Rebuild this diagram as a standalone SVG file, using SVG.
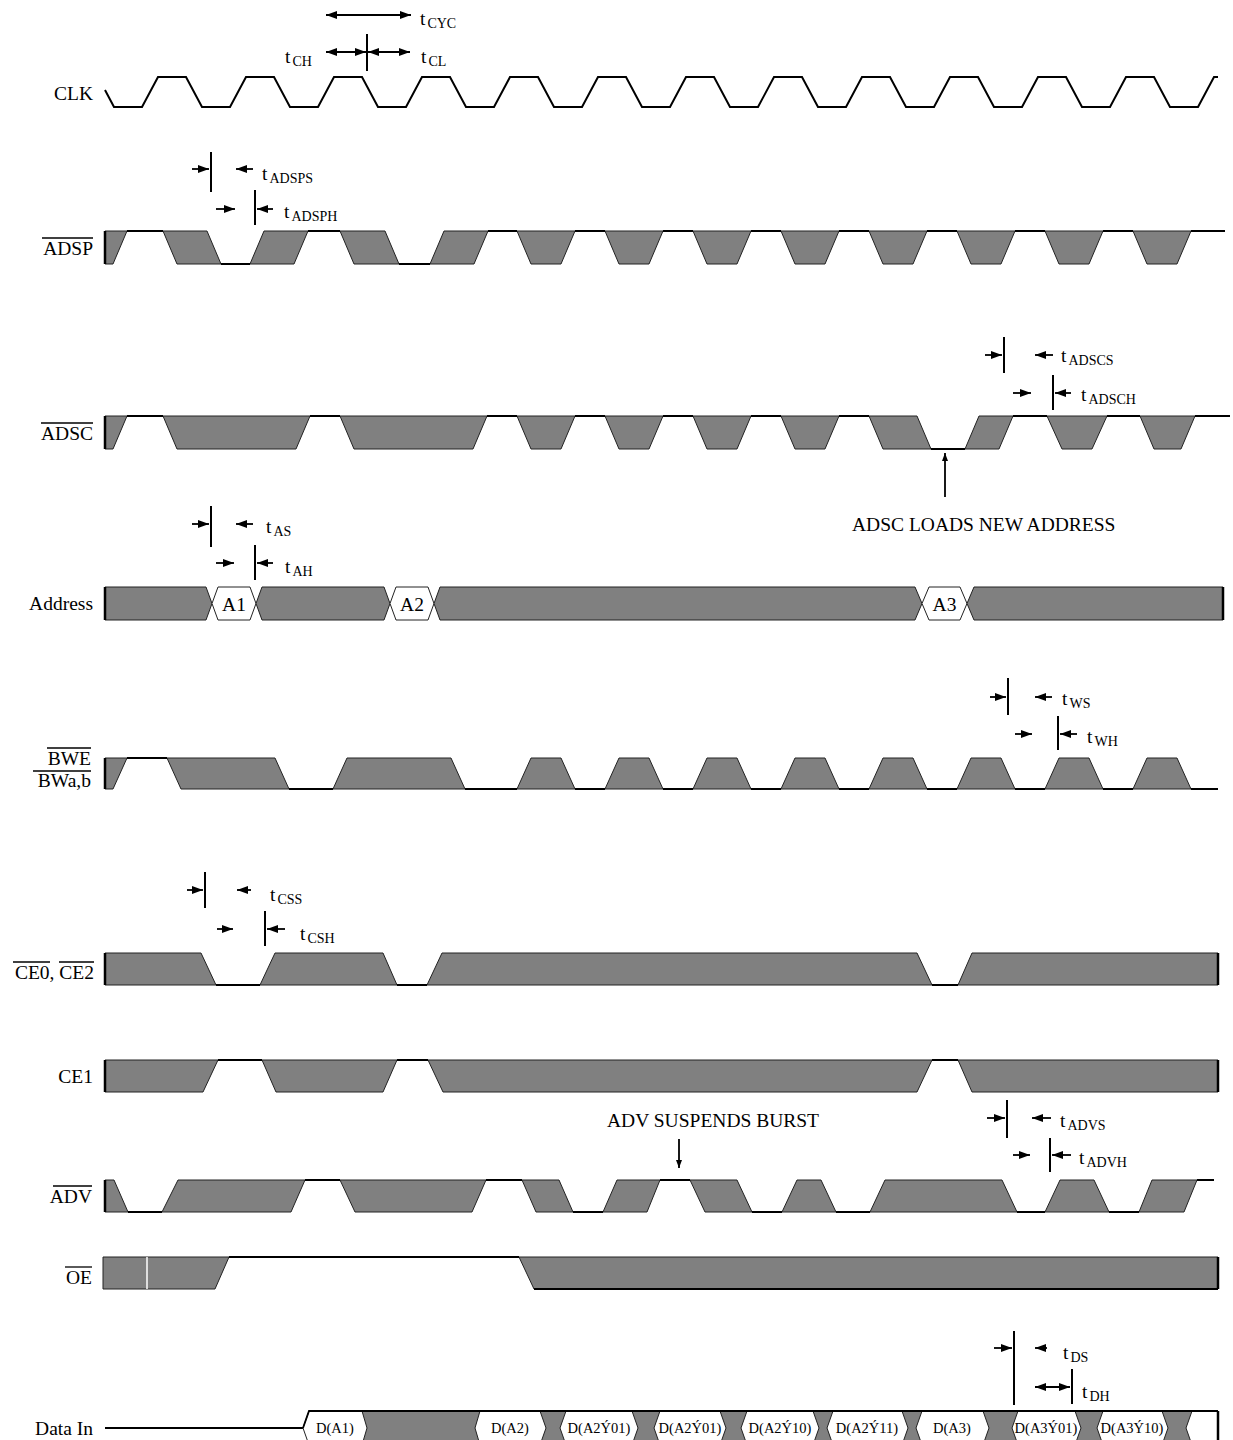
<svg xmlns="http://www.w3.org/2000/svg" width="1233" height="1440" viewBox="0 0 1233 1440">
<defs>
<style>
.g{fill:#808080;stroke:#222;stroke-width:1;stroke-linejoin:miter}
.w{fill:#fff;stroke:#222;stroke-width:1}
.l{fill:none;stroke:#000;stroke-width:2}
.bd{fill:none;stroke:#000;stroke-width:2.5}
.m{fill:none;stroke:#000;stroke-width:2}
.a{fill:none;stroke:#000;stroke-width:1.8}
.t{font-family:"Liberation Serif","Times New Roman",serif;font-size:19.5px;fill:#000}
.s{font-size:14px}
.d{font-family:"Liberation Serif","Times New Roman",serif;font-size:14.5px;fill:#000;text-anchor:middle}
.lb{font-family:"Liberation Serif","Times New Roman",serif;font-size:19.5px;fill:#000;text-anchor:end}
.ov{stroke:#000;stroke-width:1.3}
</style>
<marker id="ah" viewBox="0 0 11 8" refX="11" refY="4" markerWidth="11" markerHeight="8" markerUnits="userSpaceOnUse" orient="auto-start-reverse"><path d="M0,0L11,4L0,8z" fill="#000"/></marker>
<marker id="ah2" viewBox="0 0 8 6" refX="8" refY="3" markerWidth="8" markerHeight="6" markerUnits="userSpaceOnUse" orient="auto-start-reverse"><path d="M0,0L8,3L0,6z" fill="#000"/></marker>
</defs>
<rect width="1233" height="1440" fill="#fff"/>

<g id="clk">
<text class="lb" x="93" y="100">CLK</text>
<path class="l" d="M105,90L114,107L142,107L158,77L186,77L202,107L230,107L246,77L274,77L290,107L318,107L334,77L362,77L378,107L406,107L422,77L450,77L466,107L494,107L510,77L538,77L554,107L582,107L598,77L626,77L642,107L670,107L686,77L714,77L730,107L758,107L774,77L802,77L818,107L846,107L862,77L890,77L906,107L934,107L950,77L978,77L994,107L1022,107L1038,77L1066,77L1082,107L1110,107L1126,77L1154,77L1170,107L1198,107L1214,77L1218,77"/>
</g>

<g id="adsp">
<text class="lb" x="93" y="255">ADSP</text>
<line class="ov" x1="42" y1="238" x2="93" y2="238"/>
<polygon class="g" points="105,231 127,231 113,264 105,264"/>
<polygon class="g" points="163,231 207,231 221,264 177,264"/>
<polygon class="g" points="250,264 264,231 308,231 294,264"/>
<polygon class="g" points="340,231 385,231 399,264 354,264"/>
<polygon class="g" points="430,264 444,231 488,231 474,264"/>
<polygon class="g" points="517,231 575,231 561,264 531,264"/>
<polygon class="g" points="605,231 663,231 649,264 619,264"/>
<polygon class="g" points="693,231 751,231 737,264 707,264"/>
<polygon class="g" points="781,231 839,231 825,264 795,264"/>
<polygon class="g" points="869,231 927,231 913,264 883,264"/>
<polygon class="g" points="957,231 1015,231 1001,264 971,264"/>
<polygon class="g" points="1045,231 1103,231 1089,264 1059,264"/>
<polygon class="g" points="1133,231 1191,231 1177,264 1147,264"/>
<path class="l" d="M127,231H163M221,264H250M308,231H340M399,264H430M488,231H517M575,231H605M663,231H693M751,231H781M839,231H869M927,231H957M1015,231H1045M1103,231H1133M1191,231H1225"/>
<path class="bd" d="M105,231V264"/>
</g>

<g id="adsc">
<text class="lb" x="93" y="440">ADSC</text>
<line class="ov" x1="41" y1="423" x2="93" y2="423"/>
<polygon class="g" points="105,416 127,416 113,449 105,449"/>
<polygon class="g" points="163,416 310,416 296,449 177,449"/>
<polygon class="g" points="340,416 487,416 473,449 354,449"/>
<polygon class="g" points="517,416 575,416 561,449 531,449"/>
<polygon class="g" points="605,416 663,416 649,449 619,449"/>
<polygon class="g" points="693,416 751,416 737,449 707,449"/>
<polygon class="g" points="781,416 839,416 825,449 795,449"/>
<polygon class="g" points="869,416 917,416 931,449 883,449"/>
<polygon class="g" points="965,449 979,416 1013,416 999,449"/>
<polygon class="g" points="1047,416 1107,416 1092,449 1062,449"/>
<polygon class="g" points="1140,416 1195,416 1181,449 1154,449"/>
<path class="l" d="M127,416H163M310,416H340M487,416H517M575,416H605M663,416H693M751,416H781M839,416H869M931,449H965M1013,416H1047M1107,416H1140M1195,416H1230"/>
<path class="bd" d="M105,416V449"/>
</g>

<g id="address">
<text class="lb" x="93" y="610">Address</text>
<polygon class="g" points="105,587 206,587 212,603.5 206,620 105,620"/>
<polygon class="w" points="212,603.5 218,587 250,587 256,603.5 250,620 218,620"/>
<polygon class="g" points="256,603.5 262,587 384,587 390,603.5 384,620 262,620"/>
<polygon class="w" points="390,603.5 396,587 428,587 434,603.5 428,620 396,620"/>
<polygon class="g" points="434,603.5 440,587 915,587 922,603.5 915,620 440,620"/>
<polygon class="w" points="922,603.5 929,587 960,587 967,603.5 960,620 929,620"/>
<polygon class="g" points="967,603.5 974,587 1223,587 1223,620 974,620"/>
<path class="bd" d="M105,587V620M1223,587V620"/>
<text class="t" x="234" y="611" text-anchor="middle">A1</text>
<text class="t" x="412" y="611" text-anchor="middle">A2</text>
<text class="t" x="944.5" y="611" text-anchor="middle">A3</text>
</g>

<g id="bwe">
<text class="lb" x="91" y="765">BWE</text>
<line class="ov" x1="47" y1="748" x2="91" y2="748"/>
<text class="lb" x="91" y="787">BWa,b</text>
<line class="ov" x1="33" y1="771" x2="91" y2="771"/>
<polygon class="g" points="105,758 127,758 113,789 105,789"/>
<polygon class="g" points="167,758 275,758 289,789 181,789"/>
<polygon class="g" points="333,789 347,758 451,758 465,789"/>
<polygon class="g" points="517,789 531,758 561,758 575,789"/>
<polygon class="g" points="605,789 619,758 649,758 663,789"/>
<polygon class="g" points="693,789 707,758 737,758 751,789"/>
<polygon class="g" points="781,789 795,758 825,758 839,789"/>
<polygon class="g" points="869,789 883,758 913,758 927,789"/>
<polygon class="g" points="957,789 971,758 1001,758 1015,789"/>
<polygon class="g" points="1045,789 1059,758 1089,758 1103,789"/>
<polygon class="g" points="1133,789 1147,758 1177,758 1191,789"/>
<path class="l" d="M127,758H167M289,789H333M465,789H517M575,789H605M663,789H693M751,789H781M839,789H869M927,789H957M1015,789H1045M1103,789H1133M1191,789H1218"/>
<path class="bd" d="M105,758V789"/>
</g>

<g id="ce0">
<text class="lb" x="94" y="979">CE0, CE2</text>
<line class="ov" x1="13" y1="962" x2="50" y2="962"/>
<line class="ov" x1="59" y1="962" x2="94" y2="962"/>
<polygon class="g" points="105,953 201,953 216,985 105,985"/>
<polygon class="g" points="260,985 275,953 383,953 397,985"/>
<polygon class="g" points="427,985 442,953 917,953 932,985"/>
<polygon class="g" points="958,985 972,953 1218,953 1218,985"/>
<path class="l" d="M216,985H260M397,985H427M932,985H958"/>
<path class="bd" d="M105,953V985M1218,953V985"/>
</g>

<g id="ce1">
<text class="lb" x="93" y="1083">CE1</text>
<polygon class="g" points="105,1060 218,1060 203,1092 105,1092"/>
<polygon class="g" points="262,1060 397,1060 383,1092 276,1092"/>
<polygon class="g" points="428,1060 932,1060 917,1092 443,1092"/>
<polygon class="g" points="958,1060 1218,1060 1218,1092 972,1092"/>
<path class="l" d="M218,1060H262M397,1060H428M932,1060H958"/>
<path class="bd" d="M105,1060V1092M1218,1060V1092"/>
</g>

<g id="adv">
<text class="lb" x="92" y="1203">ADV</text>
<line class="ov" x1="53" y1="1186" x2="92" y2="1186"/>
<polygon class="g" points="105,1180 114,1180 128,1212 105,1212"/>
<polygon class="g" points="162,1212 178,1180 305,1180 291,1212"/>
<polygon class="g" points="340,1180 486,1180 472,1212 355,1212"/>
<polygon class="g" points="522,1180 559,1180 573,1212 536,1212"/>
<polygon class="g" points="603,1212 617,1180 660,1180 647,1212"/>
<polygon class="g" points="690,1180 737,1180 752,1212 705,1212"/>
<polygon class="g" points="782,1212 797,1180 821,1180 836,1212"/>
<polygon class="g" points="870,1212 885,1180 1002,1180 1017,1212"/>
<polygon class="g" points="1045,1212 1060,1180 1094,1180 1109,1212"/>
<polygon class="g" points="1139,1212 1152,1180 1197,1180 1184,1212"/>
<path class="l" d="M128,1212H162M305,1180H340M486,1180H522M573,1212H603M660,1180H690M752,1212H782M836,1212H870M1017,1212H1045M1109,1212H1139M1197,1180H1214"/>
<path class="bd" d="M105,1180V1212"/>
</g>

<g id="oe">
<text class="lb" x="92" y="1284">OE</text>
<line class="ov" x1="65" y1="1267" x2="92" y2="1267"/>
<polygon class="g" points="103,1257 229,1257 215,1289 103,1289"/>
<line x1="147" y1="1257" x2="147" y2="1289" stroke="#fff" stroke-width="1.5"/>
<polygon class="g" points="519,1257 1218,1257 1218,1289 534,1289"/>
<path class="l" d="M229,1257H519M534,1289H1218"/>
<path class="bd" d="M1218,1257V1289"/>
</g>

<g id="datain">
<text class="lb" x="93" y="1435">Data In</text>
<path class="l" d="M105,1428H303"/>
<polygon class="w" points="303,1428 309,1411 1218,1411 1218,1445 309,1445"/>
<polygon class="g" points="362,1411 480,1411 475,1428 480,1445 362,1445 367,1428"/>
<polygon class="g" points="540,1411 566,1411 560,1428 566,1445 540,1445 546,1428"/>
<polygon class="g" points="632,1411 660,1411 654,1428 660,1445 632,1445 638,1428"/>
<polygon class="g" points="720,1411 747,1411 741,1428 747,1445 720,1445 726,1428"/>
<polygon class="g" points="813,1411 833,1411 827,1428 833,1445 813,1445 819,1428"/>
<polygon class="g" points="902,1411 922,1411 916,1428 922,1445 902,1445 908,1428"/>
<polygon class="g" points="983,1411 1018,1411 1012,1428 1018,1445 983,1445 989,1428"/>
<polygon class="g" points="1075,1411 1103,1411 1097,1428 1103,1445 1075,1445 1081,1428"/>
<polygon class="g" points="1162,1411 1192,1411 1186,1428 1192,1445 1162,1445 1168,1428"/>
<path class="a" d="M303,1428L309,1411H1218"/>
<path class="bd" d="M1218,1411V1440"/>
<text class="d" x="335" y="1433">D(A1)</text>
<text class="d" x="510" y="1433">D(A2)</text>
<text class="d" x="599" y="1433">D(A2Ý01)</text>
<text class="d" x="690" y="1433">D(A2Ý01)</text>
<text class="d" x="780" y="1433">D(A2Ý10)</text>
<text class="d" x="867" y="1433">D(A2Ý11)</text>
<text class="d" x="952" y="1433">D(A3)</text>
<text class="d" x="1046" y="1433">D(A3Ý01)</text>
<text class="d" x="1132" y="1433">D(A3Ý10)</text>
</g>

<g id="connectors">
<line class="a" x1="326" y1="15" x2="411" y2="15" marker-start="url(#ah)" marker-end="url(#ah)"/>
<line class="m" x1="367" y1="34" x2="367" y2="71"/>
<line class="a" x1="326" y1="52" x2="366" y2="52" marker-start="url(#ah)" marker-end="url(#ah)"/>
<line class="a" x1="368" y1="52" x2="410" y2="52" marker-start="url(#ah)" marker-end="url(#ah)"/>
<line class="m" x1="211" y1="152" x2="211" y2="192"/>
<line class="a" x1="192" y1="169" x2="209" y2="169" marker-end="url(#ah)"/>
<line class="a" x1="253" y1="169" x2="236" y2="169" marker-end="url(#ah)"/>
<line class="m" x1="255" y1="190" x2="255" y2="225"/>
<line class="a" x1="216" y1="209" x2="235" y2="209" marker-end="url(#ah)"/>
<line class="a" x1="273" y1="209" x2="257" y2="209" marker-end="url(#ah)"/>
<line class="m" x1="1004" y1="337" x2="1004" y2="373"/>
<line class="a" x1="985" y1="355" x2="1002" y2="355" marker-end="url(#ah)"/>
<line class="a" x1="1053" y1="355" x2="1035" y2="355" marker-end="url(#ah)"/>
<line class="m" x1="1053" y1="375" x2="1053" y2="410"/>
<line class="a" x1="1013" y1="393" x2="1031" y2="393" marker-end="url(#ah)"/>
<line class="a" x1="1071" y1="393" x2="1055" y2="393" marker-end="url(#ah)"/>
<line class="a" x1="945" y1="497" x2="945" y2="453" marker-end="url(#ah2)"/>
<line class="m" x1="211" y1="506" x2="211" y2="547"/>
<line class="a" x1="192" y1="524" x2="209" y2="524" marker-end="url(#ah)"/>
<line class="a" x1="253" y1="524" x2="236" y2="524" marker-end="url(#ah)"/>
<line class="m" x1="255" y1="545" x2="255" y2="580"/>
<line class="a" x1="216" y1="563" x2="234" y2="563" marker-end="url(#ah)"/>
<line class="a" x1="273" y1="563" x2="257" y2="563" marker-end="url(#ah)"/>
<line class="m" x1="1008" y1="678" x2="1008" y2="715"/>
<line class="a" x1="990" y1="697" x2="1006" y2="697" marker-end="url(#ah)"/>
<line class="a" x1="1052" y1="697" x2="1035" y2="697" marker-end="url(#ah)"/>
<line class="m" x1="1058" y1="716" x2="1058" y2="750"/>
<line class="a" x1="1015" y1="734" x2="1032" y2="734" marker-end="url(#ah)"/>
<line class="a" x1="1077" y1="734" x2="1060" y2="734" marker-end="url(#ah)"/>
<line class="m" x1="205" y1="872" x2="205" y2="908"/>
<line class="a" x1="187" y1="890" x2="203" y2="890" marker-end="url(#ah)"/>
<line class="a" x1="251" y1="890" x2="237" y2="890" marker-end="url(#ah)"/>
<line class="m" x1="265" y1="911" x2="265" y2="946"/>
<line class="a" x1="217" y1="929" x2="233" y2="929" marker-end="url(#ah)"/>
<line class="a" x1="285" y1="929" x2="267" y2="929" marker-end="url(#ah)"/>
<line class="m" x1="1007" y1="1100" x2="1007" y2="1138"/>
<line class="a" x1="987" y1="1118" x2="1005" y2="1118" marker-end="url(#ah)"/>
<line class="a" x1="1051" y1="1118" x2="1032" y2="1118" marker-end="url(#ah)"/>
<line class="m" x1="1050" y1="1138" x2="1050" y2="1172"/>
<line class="a" x1="1013" y1="1155" x2="1030" y2="1155" marker-end="url(#ah)"/>
<line class="a" x1="1071" y1="1155" x2="1052" y2="1155" marker-end="url(#ah)"/>
<line class="a" x1="679" y1="1139" x2="679" y2="1168" marker-end="url(#ah2)"/>
<line class="m" x1="1014" y1="1331" x2="1014" y2="1405"/>
<line class="a" x1="994" y1="1348" x2="1012" y2="1348" marker-end="url(#ah)"/>
<line class="a" x1="1047" y1="1348" x2="1035" y2="1348" marker-end="url(#ah)"/>
<line class="m" x1="1072" y1="1369" x2="1072" y2="1404"/>
<line class="a" x1="1035" y1="1387" x2="1070" y2="1387" marker-start="url(#ah)" marker-end="url(#ah)"/>
</g>

<g id="annotations">
<text class="t" x="420" y="25">t<tspan class="s" dx="2" dy="3">CYC</tspan></text>
<text class="t" x="285" y="63">t<tspan class="s" dx="2" dy="3">CH</tspan></text>
<text class="t" x="421" y="63">t<tspan class="s" dx="2" dy="3">CL</tspan></text>
<text class="t" x="262" y="180">t<tspan class="s" dx="2" dy="3">ADSPS</tspan></text>
<text class="t" x="284" y="218">t<tspan class="s" dx="2" dy="3">ADSPH</tspan></text>
<text class="t" x="1061" y="362">t<tspan class="s" dx="2" dy="3">ADSCS</tspan></text>
<text class="t" x="1081" y="401">t<tspan class="s" dx="2" dy="3">ADSCH</tspan></text>
<text class="t" x="852" y="531">ADSC LOADS NEW ADDRESS</text>
<text class="t" x="266" y="533">t<tspan class="s" dx="2" dy="3">AS</tspan></text>
<text class="t" x="285" y="573">t<tspan class="s" dx="2" dy="3">AH</tspan></text>
<text class="t" x="1062" y="705">t<tspan class="s" dx="2" dy="3">WS</tspan></text>
<text class="t" x="1087" y="743">t<tspan class="s" dx="2" dy="3">WH</tspan></text>
<text class="t" x="270" y="901">t<tspan class="s" dx="2" dy="3">CSS</tspan></text>
<text class="t" x="300" y="940">t<tspan class="s" dx="2" dy="3">CSH</tspan></text>
<text class="t" x="607" y="1127">ADV SUSPENDS BURST</text>
<text class="t" x="1060" y="1127">t<tspan class="s" dx="2" dy="3">ADVS</tspan></text>
<text class="t" x="1079" y="1164">t<tspan class="s" dx="2" dy="3">ADVH</tspan></text>
<text class="t" x="1063" y="1359">t<tspan class="s" dx="2" dy="3">DS</tspan></text>
<text class="t" x="1082" y="1398">t<tspan class="s" dx="2" dy="3">DH</tspan></text>
</g>
</svg>
